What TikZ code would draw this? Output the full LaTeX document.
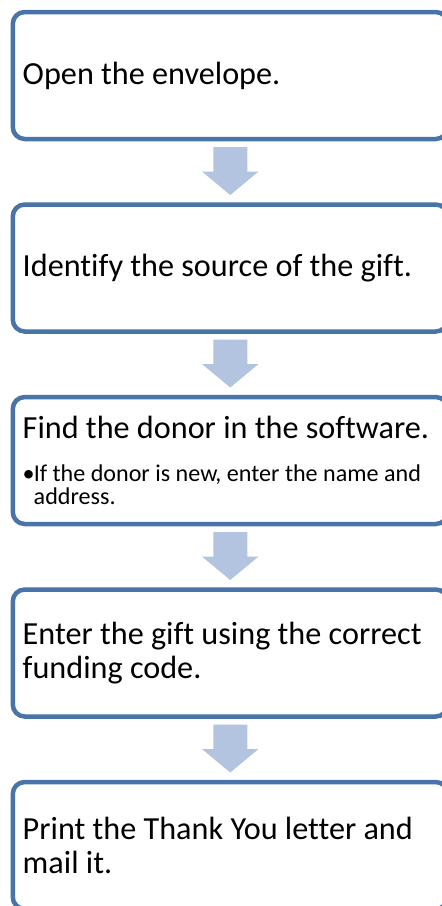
\documentclass[tikz,border=0pt]{standalone}
\usepackage{fontspec}
\setmainfont[Ligatures=NoCommon]{Carlito}
\usetikzlibrary{calc}

\definecolor{boxline}{RGB}{72,116,170}
\definecolor{arrowfill}{RGB}{178,196,224}

\newcommand\stepfont{\fontsize{32.2}{33.5}\selectfont}
\newcommand\notefont{\fontsize{24.1}{23}\selectfont}

% block arrow from the bottom of one step to the top of the next
\newcommand\flowarrow[2]{%
  \fill[arrowfill]
    ($(#1.south)+(-17,-8)$) -- ($(#1.south)+(17,-8)$) --
    ($(#2.north)+(17,33)$) -- ($(#2.north)+(28.3,33)$) --
    ($(#2.north)+(0,9.5)$) --
    ($(#2.north)+(-28.3,33)$) -- ($(#2.north)+(-17,33)$) -- cycle;}

\begin{document}
\begin{tikzpicture}[x=1pt,y=1pt,
  stepbox/.style={draw=boxline, line width=4.5pt, rounded corners=12pt,
    fill=white, minimum width=433.5pt, minimum height=127pt,
    text width=415pt, inner xsep=10pt, inner ysep=0pt, outer sep=0pt,
    align=flush left, font=\stepfont, text=black}]
\useasboundingbox (0,0) rectangle (442,-906);
\clip (0,0) rectangle (442,-906);

\node[stepbox] (b1) at (230.25,-75.5) {Open the envelope.};
\node[stepbox] (b2) at (230.25,-268) {Identify the source of the gift.};
\node[stepbox] (b3) at (230.25,-460.5) {Find the donor in the software.\par
  \vspace{20pt}{\notefont\hangindent=11pt\hangafter=1
  \makebox[11pt][l]{•}If the donor is new, enter the name and address.\par}};
\node[stepbox] (b4) at (230.25,-653) {Enter the gift using the correct funding code.};
\node[stepbox] (b5) at (230.25,-845.5) {Print the Thank You letter and mail it.};

\flowarrow{b1}{b2}
\flowarrow{b2}{b3}
\flowarrow{b3}{b4}
\flowarrow{b4}{b5}
\end{tikzpicture}
\end{document}
